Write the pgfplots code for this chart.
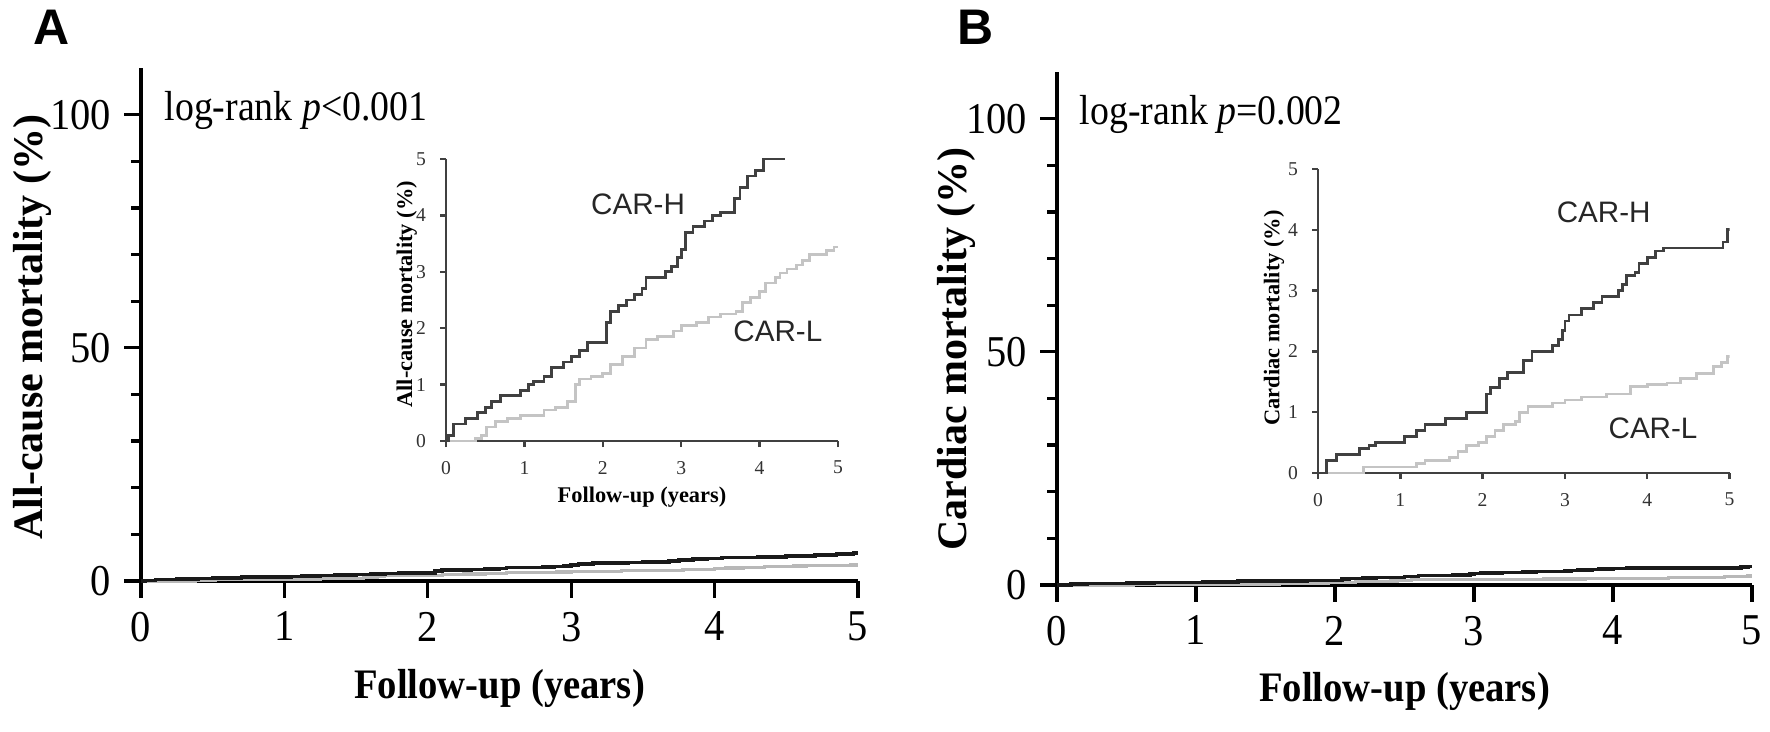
\documentclass[border=0pt]{standalone}
\usepackage{pgfplots}
\pgfplotsset{compat=1.18}
\usepackage{fontspec}
\setmainfont{Liberation Serif}
\newfontfamily\arial{Liberation Sans}

\definecolor{darkline}{HTML}{1A1A1A}
\definecolor{insetdark}{HTML}{404040}
\definecolor{lightline}{HTML}{B8B8B8}
\definecolor{insetlight}{HTML}{C4C4C4}

\pgfplotsset{
  mainax/.style={
    scale only axis,
    xmin=0, xmax=5, ymin=0, ymax=110,
    axis lines=left,
    axis line style={-, line width=0.8pt, black},
    y axis line style={shorten <=-4.2pt},
    tick style={line width=0.8pt, black},
    tick align=outside,
    xtick={0,1,2,3,4,5}, ytick={0,50,100},
    minor ytick={10,20,30,40,60,70,80,90},
    major tick length=4.2pt, minor tick length=2.4pt,
    /pgf/number format/assume math mode=true,
    tick label style={font=\fontsize{11}{11}\selectfont, xscale=0.92},
    label style={font=\bfseries\fontsize{10.5}{12}\selectfont},
    clip=false,
  },
  insetax/.style={
    scale only axis,
    xmin=0, xmax=5, ymin=0, ymax=5,
    axis lines=left,
    axis line style={-, line width=0.6pt, black!75},
    y axis line style={shorten <=-1.5pt},
    tick style={line width=0.6pt, black!75},
    tick align=outside,
    xtick={0,1,2,3,4,5}, ytick={0,1,2,3,4,5},
    major tick length=1.5pt,
    /pgf/number format/assume math mode=true,
    tick label style={font=\fontsize{4.9}{5}\selectfont, text=black!80},
    label style={font=\bfseries\fontsize{5.6}{6}\selectfont},
  },
}

\pgfplotstableread{
x y
0 0
0.03 0.1
0.1 0.3
0.25 0.4
0.4 0.5
0.5 0.6
0.58 0.7
0.7 0.8
0.95 0.9
1.05 1.0
1.12 1.05
1.25 1.15
1.35 1.3
1.5 1.4
1.6 1.5
1.7 1.6
1.8 1.75
2.05 2.1
2.1 2.3
2.2 2.4
2.3 2.5
2.4 2.6
2.5 2.7
2.55 2.9
2.8 3.0
2.88 3.1
2.95 3.25
3.0 3.4
3.05 3.7
3.15 3.8
3.3 3.9
3.4 4.0
3.5 4.05
3.68 4.3
3.75 4.5
3.85 4.7
3.95 4.8
4.05 5.0
4.3 5.2
4.5 5.4
4.7 5.6
4.85 5.8
4.97 6.0
5.0 6.0
}\AH

\pgfplotstableread{
x y
0 0
0.38 0.05
0.45 0.1
0.52 0.25
0.63 0.35
0.78 0.4
0.95 0.45
1.25 0.55
1.4 0.6
1.55 0.7
1.65 1.0
1.7 1.1
1.85 1.15
2.0 1.2
2.1 1.35
2.25 1.5
2.4 1.65
2.55 1.8
2.7 1.85
2.9 1.95
3.0 2.05
3.2 2.1
3.35 2.2
3.5 2.25
3.7 2.3
3.78 2.45
3.88 2.55
4.0 2.65
4.08 2.8
4.2 2.9
4.26 2.98
4.35 3.05
4.47 3.12
4.55 3.2
4.64 3.3
4.85 3.38
4.95 3.44
5.0 3.44
}\AL

\pgfplotstableread{
x y
0 0
0.1 0.2
0.22 0.3
0.5 0.4
0.62 0.45
0.7 0.5
1.05 0.6
1.2 0.7
1.3 0.8
1.55 0.9
1.8 1.0
2.05 1.3
2.1 1.4
2.2 1.55
2.3 1.65
2.5 1.85
2.6 2.0
2.85 2.1
2.92 2.2
2.97 2.35
3.0 2.5
3.05 2.6
3.2 2.7
3.35 2.8
3.45 2.9
3.65 3.0
3.7 3.1
3.75 3.25
3.85 3.3
3.9 3.45
4.0 3.55
4.1 3.65
4.2 3.7
4.92 3.8
4.97 4.0
5.0 4.0
}\BH

\pgfplotstableread{
x y
0 0
0.55 0.1
1.2 0.15
1.3 0.2
1.6 0.25
1.7 0.35
1.8 0.45
1.95 0.5
2.05 0.6
2.15 0.7
2.25 0.8
2.4 0.85
2.45 1.0
2.55 1.1
2.85 1.15
3.0 1.2
3.2 1.25
3.5 1.3
3.8 1.42
4.0 1.45
4.24 1.48
4.4 1.55
4.6 1.64
4.8 1.75
4.9 1.82
4.97 1.91
5.0 1.91
}\BL

\begin{document}
\begin{tikzpicture}
\path[use as bounding box] (0,0) rectangle (442.5pt,182.75pt);

% Panel labels
\node[font=\arial\bfseries\fontsize{12.5}{12.5}\selectfont] at (13pt,176pt) {A};
\node[font=\arial\bfseries\fontsize{12.5}{12.5}\selectfont] at (243.8pt,176pt) {B};

% ---------- Panel A main ----------
\begin{axis}[mainax, at={(35.25pt,37.5pt)}, anchor=south west,
  width=179.25pt, height=128.25pt,
  xlabel={Follow-up (years)}, ylabel={All-cause mortality (\%)},
  xlabel style={at={(axis description cs:0.5,-0.21)}, anchor=center, xscale=0.92},
  ylabel style={at={(axis description cs:-0.152,0.495)}, anchor=center},
]
\addplot[const plot, color=lightline, line width=0.8pt] table {\AL};
\addplot[const plot, color=darkline, line width=0.9pt] table {\AH};
\node[anchor=west, inner sep=0pt, font=\fontsize{10.5}{12}\selectfont, xscale=0.9] at (axis cs:0.16,101) {log-rank \textit{p}<0.001};
\end{axis}

% ---------- Panel A inset ----------
\begin{axis}[insetax, at={(111.5pt,72.5pt)}, anchor=south west,
  width=98pt, height=70.5pt,
  xlabel={Follow-up (years)}, ylabel={All-cause mortality (\%)},
  xlabel style={at={(axis description cs:0.5,-0.2)}, anchor=center},
  ylabel style={at={(axis description cs:-0.1,0.52)}, anchor=center},
]
\addplot[const plot, color=insetlight, line width=0.7pt] table {\AL};
\addplot[const plot, color=insetdark, line width=0.7pt] table {\AH};
\node[font=\arial\fontsize{7.4}{8}\selectfont, text=black!85] at (axis cs:2.45,4.2) {CAR-H};
\node[anchor=east, font=\arial\fontsize{7.4}{8}\selectfont, text=black!85] at (axis cs:4.98,1.95) {CAR-L};
\end{axis}

% ---------- Panel B main ----------
\begin{axis}[mainax, at={(264.25pt,36.5pt)}, anchor=south west,
  width=173.75pt, height=128.25pt,
  xlabel={Follow-up (years)}, ylabel={Cardiac mortality (\%)},
  xlabel style={at={(axis description cs:0.5,-0.207)}, anchor=center, xscale=0.92},
  ylabel style={at={(axis description cs:-0.144,0.46)}, anchor=center},
]
\addplot[const plot, color=lightline, line width=0.8pt] table {\BL};
\addplot[const plot, color=darkline, line width=0.9pt] table {\BH};
\node[anchor=west, inner sep=0pt, font=\fontsize{10.5}{12}\selectfont, xscale=0.9] at (axis cs:0.16,101) {log-rank \textit{p}=0.002};
\end{axis}

% ---------- Panel B inset ----------
\begin{axis}[insetax, at={(329.5pt,64.5pt)}, anchor=south west,
  width=102.9pt, height=76pt,
  ylabel={Cardiac mortality (\%)},
  ylabel style={at={(axis description cs:-0.107,0.51)}, anchor=center},
]
\addplot[const plot, color=insetlight, line width=0.7pt] table {\BL};
\addplot[const plot, color=insetdark, line width=0.7pt] table {\BH};
\node[font=\arial\fontsize{7.4}{8}\selectfont, text=black!85] at (axis cs:3.47,4.28) {CAR-H};
\node[font=\arial\fontsize{7.4}{8}\selectfont, text=black!85] at (axis cs:4.07,0.74) {CAR-L};
\end{axis}
\end{tikzpicture}
\end{document}
